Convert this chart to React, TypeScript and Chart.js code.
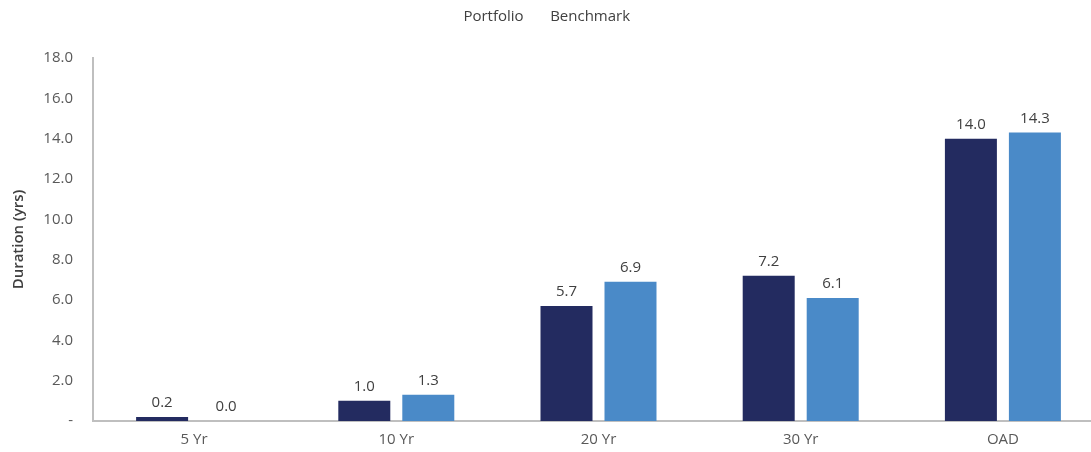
import React, { useEffect, useRef } from "react";
import { Chart, registerables } from "chart.js";

Chart.register(...registerables);

const categories = ["5 Yr", "10 Yr", "20 Yr", "30 Yr", "OAD"];
const portfolio = [0.2, 1.0, 5.7, 7.2, 14.0];
const benchmark = [0.0, 1.3, 6.9, 6.1, 14.3];
const seriesNames = ["Portfolio", "Benchmark"];
const yTickMax = 18;
const yTickStep = 2;

const FONT = "'Open Sans', 'Liberation Sans', sans-serif";
const TEXT = "#404040";

const valueLabels = {
  id: "valueLabels",
  afterDatasetsDraw(chart: any) {
    const ctx = chart.ctx;
    ctx.save();
    ctx.font = `15px ${FONT}`;
    ctx.fillStyle = TEXT;
    ctx.textAlign = "center";
    ctx.textBaseline = "middle";
    chart.data.datasets.forEach((ds: any, i: number) => {
      const meta = chart.getDatasetMeta(i);
      meta.data.forEach((bar: any, j: number) => {
        const v = ds.data[j];
        ctx.fillText(v.toFixed(1), bar.x, bar.y - 14);
      });
    });
    ctx.restore();
  },
};

const legendSpace = {
  id: "legendSpace",
  afterInit(chart: any) {
    const legend = chart.legend;
    if (!legend) return;
    const orig = legend.fit;
    legend.fit = function () {
      orig.call(this);
      this.height = 58;
    };
  },
  beforeDraw(chart: any) {
    const legend = chart.legend;
    if (!legend) return;
    legend.top = -10;
    legend.left -= 9;
    legend.right -= 9;
  },
};

export default function App() {
  const ref = useRef<HTMLCanvasElement>(null);
  useEffect(() => {
    if (!ref.current) return;
    const chart = new Chart(ref.current, {
      type: "bar",
      data: {
        labels: categories,
        datasets: [
          {
            label: seriesNames[0],
            data: portfolio,
            backgroundColor: "#232B60",
            categoryPercentage: 0.633,
            barPercentage: 0.8125,
          },
          {
            label: seriesNames[1],
            data: benchmark,
            backgroundColor: "#4A8AC8",
            categoryPercentage: 0.633,
            barPercentage: 0.8125,
          },
        ],
      },
      options: {
        animation: false,
        responsive: false,
        maintainAspectRatio: false,
        layout: { padding: { left: 0, right: 6, top: 0, bottom: 0 } },
        plugins: {
          tooltip: { enabled: false },
          legend: {
            position: "top",
            labels: {
              boxWidth: 0,
              boxHeight: 0,
              padding: 19,
              color: TEXT,
              font: { family: FONT, size: 15 },
            },
          },
        },
        scales: {
          x: {
            afterFit: (s: any) => {
              s.height = 31;
            },
            grid: { display: false, drawTicks: false },
            border: { display: true, color: "#BFBFBF", width: 2 },
            ticks: { color: "#595959", font: { family: FONT, size: 15 }, padding: 10 },
          },
          y: {
            min: 0,
            max: yTickMax,
            afterFit: (s: any) => {
              s.width = 93;
            },
            grid: { display: false, drawTicks: false },
            border: { display: true, color: "#BFBFBF", width: 2 },
            ticks: {
              stepSize: yTickStep,
              color: "#595959",
              font: { family: FONT, size: 15 },
              padding: 20,
              callback: (v: any) => (Number(v) === 0 ? "-" : Number(v).toFixed(1)),
            },
            title: {
              display: true,
              text: "Duration (yrs)",
              color: TEXT,
              font: { family: FONT, size: 15, weight: 600 },
              padding: { top: 10, bottom: 0 },
            },
          },
        },
      },
      plugins: [valueLabels, legendSpace],
    });
    return () => chart.destroy();
  }, []);
  return (
    <div style={{ position: "fixed", left: 0, top: 0, width: 1091, height: 452, overflow: "hidden", background: "#fff" }}>
      <canvas ref={ref} width={1110} height={452} style={{ width: 1110, height: 452, display: "block" }} />
    </div>
  );
}
